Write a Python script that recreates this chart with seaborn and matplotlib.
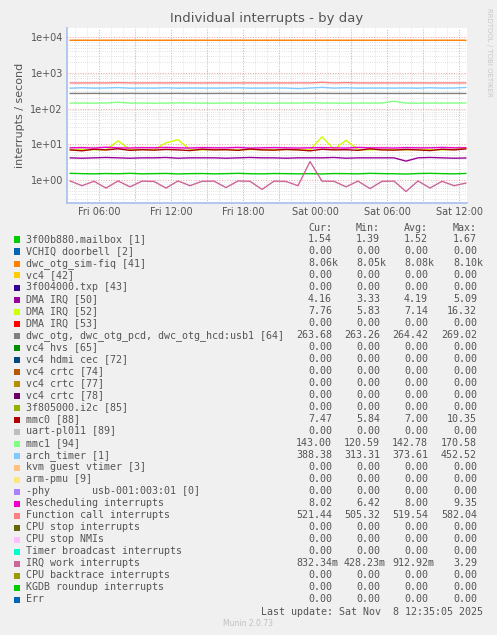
import numpy as np
import pandas as pd
import matplotlib
matplotlib.use('Agg')
import matplotlib.pyplot as plt
import matplotlib.dates as mdates
import matplotlib.ticker as mticker
import seaborn as sns

# ---- data (hourly samples) ----
start = pd.Timestamp('2025-11-07 03:35')
n_pts = 34
mailbox   = [1.55,1.52,1.50,1.53,1.51,1.55,1.50,1.52,1.54,1.49,1.52,1.53,1.50,1.52,1.55,1.51,1.50,1.53,1.52,1.50,1.52,1.49,1.53,1.52,1.50,1.55,1.52,1.51,1.48,1.53,1.55,1.52,1.50,1.54]
sim_fiq   = [8060,8080,8070,8090,8080,8075,8085,8080,8070,8090,8080,8085,8075,8080,8090,8080,8070,8085,8080,8075,8080,8090,8080,8070,8085,8080,8075,8080,8090,8080,8070,8085,8080,8060]
dma50     = [4.2,4.1,4.2,4.3,4.2,4.1,4.2,4.2,4.3,4.1,4.2,4.2,4.2,4.1,4.2,4.3,4.2,4.2,4.1,4.2,4.2,4.2,4.3,4.1,4.2,4.2,4.2,4.2,3.4,4.2,4.3,4.2,4.1,4.16]
dma52     = [7.0,7.2,7.1,7.0,12.5,7.1,7.2,7.0,11.0,13.5,7.1,7.0,7.2,7.1,7.0,7.2,7.1,7.0,7.2,7.1,7.0,16.3,7.2,13.0,7.1,7.0,7.2,7.1,7.0,7.2,7.1,7.0,7.3,7.76]
dwc_otg   = [264,264,265,264,264,265,264,264,264,265,264,264,264,265,264,264,264,265,264,264,264,265,264,264,264,265,264,264,264,265,264,264,264,263.7]
mmc0      = [7.0,6.6,7.3,7.0,7.5,6.8,7.1,6.9,7.2,7.0,6.7,7.3,7.0,7.1,6.8,7.4,7.0,6.9,7.2,7.0,6.6,7.3,7.0,7.1,6.8,7.5,7.0,6.9,7.2,7.0,6.7,7.3,7.0,7.47]
mmc1      = [142,143,141,143,150,142,143,141,142,144,143,142,141,143,142,143,142,141,143,142,144,143,142,141,143,142,143,160,142,141,143,142,143,143]
arch      = [370,380,372,375,385,370,374,372,380,371,375,373,372,374,380,371,372,375,373,360,374,390,372,380,371,374,373,372,375,371,380,372,374,388]
resched   = [8.0,8.1,7.9,8.3,8.0,7.9,8.1,8.0,8.2,8.0,7.9,8.1,8.0,8.0,8.2,7.9,8.0,8.1,8.0,7.9,8.0,8.1,8.0,7.9,8.2,8.0,8.0,7.9,8.1,8.0,8.0,8.2,8.0,8.02]
funccall  = [520,518,522,519,530,520,518,521,519,525,520,518,522,519,520,521,518,520,519,522,520,540,519,530,520,518,522,519,520,521,518,520,519,521]
irqwork   = [0.95,0.70,0.93,0.60,0.95,0.65,0.94,0.92,0.60,0.95,0.70,0.93,0.94,0.62,0.95,0.93,0.55,0.94,0.92,0.70,3.3,0.94,0.93,0.65,0.94,0.58,0.93,0.94,0.48,0.95,0.60,0.93,0.70,0.83]

lines = [
    ('dwc_otg_sim-fiq', sim_fiq, '#ff8000'),
    ('Function call', funccall, '#ff8080'),
    ('arch_timer', arch, '#80c9ff'),
    ('dwc_otg', dwc_otg, '#808080'),
    ('mmc1', mmc1, '#80ff80'),
    ('DMA IRQ 52', dma52, '#ccff00'),
    ('Rescheduling', resched, '#ee00cc'),
    ('mmc0', mmc0, '#aa0000'),
    ('DMA IRQ 50', dma50, '#990099'),
    ('mailbox', mailbox, '#00cc00'),
    ('IRQ work', irqwork, '#cc6699'),
]

legend_names = ['3f00b880.mailbox [1]', 'VCHIQ doorbell [2]', 'dwc_otg_sim-fiq [41]', 'vc4 [42]',
                '3f004000.txp [43]', 'DMA IRQ [50]', 'DMA IRQ [52]', 'DMA IRQ [53]',
                'dwc_otg, dwc_otg_pcd, dwc_otg_hcd:usb1 [64]', 'vc4 hvs [65]', 'vc4 hdmi cec [72]',
                'vc4 crtc [74]', 'vc4 crtc [77]', 'vc4 crtc [78]', '3f805000.i2c [85]', 'mmc0 [88]',
                'uart-pl011 [89]', 'mmc1 [94]', 'arch_timer [1]', 'kvm guest vtimer [3]', 'arm-pmu [9]',
                '-phy       usb-001:003:01 [0]', 'Rescheduling interrupts', 'Function call interrupts',
                'CPU stop interrupts', 'CPU stop NMIs', 'Timer broadcast interrupts', 'IRQ work interrupts',
                'CPU backtrace interrupts', 'KGDB roundup interrupts', 'Err']
legend_colors = ['#00cc00', '#0066b3', '#ff8000', '#ffcc00', '#330099', '#990099', '#ccff00', '#ff0000',
                 '#808080', '#008f00', '#00487d', '#b35a00', '#b38f00', '#6b006b', '#8fb300', '#b30000',
                 '#bebebe', '#80ff80', '#80c9ff', '#ffc080', '#ffe680', '#aa80ff', '#ee00cc', '#ff8080',
                 '#666600', '#ffbfff', '#00ffcc', '#cc6699', '#999900', '#00cc00', '#0066b3']
z = '0.00'
cur = ['1.54', z, '8.06k', z, z, '4.16', '7.76', z, '263.68', z, z, z, z, z, z, '7.47', z, '143.00', '388.38', z, z, z, '8.02', '521.44', z, z, z, '832.34m', z, z, z]
mn  = ['1.39', z, '8.05k', z, z, '3.33', '5.83', z, '263.26', z, z, z, z, z, z, '5.84', z, '120.59', '313.31', z, z, z, '6.42', '505.32', z, z, z, '428.23m', z, z, z]
avg = ['1.52', z, '8.08k', z, z, '4.19', '7.14', z, '264.42', z, z, z, z, z, z, '7.00', z, '142.78', '373.61', z, z, z, '8.00', '519.54', z, z, z, '912.92m', z, z, z]
mx  = ['1.67', z, '8.10k', z, z, '5.09', '16.32', z, '269.02', z, z, z, z, z, z, '10.35', z, '170.58', '452.52', z, z, z, '9.35', '582.04', z, z, z, '3.29', z, z, z]

times = pd.date_range(start, periods=n_pts, freq='h')
df = pd.concat([pd.DataFrame({'t': times, 'v': vals, 's': name}) for name, vals, _ in lines])

sns.set_theme(style='white')
plt.rcParams['font.family'] = 'DejaVu Sans'
W, H = 497, 635
fig = plt.figure(figsize=(W / 100, H / 100), dpi=100, facecolor='#f0f0f0')
ax = fig.add_axes([67 / W, 1 - 203 / H, 400 / W, 175 / H])
ax.set_facecolor('white')

sns.lineplot(data=df, x='t', y='v', hue='s', palette={n: c for n, _, c in lines},
             linewidth=1.0, legend=False, ax=ax)
ax.set_yscale('log')
ax.set_ylim(0.23, 10 ** 4.25)
ax.set_xlim(pd.Timestamp('2025-11-07 03:20'), pd.Timestamp('2025-11-08 12:40'))

ax.xaxis.set_major_locator(mdates.HourLocator(byhour=[6, 12, 18, 0]))
ax.xaxis.set_major_formatter(mdates.DateFormatter('%a %H:%M'))
ax.xaxis.set_minor_locator(mdates.HourLocator())
ax.set_yticks([1, 10, 100, 1000, 10000])
ax.set_yticklabels(['1e+00', '1e+01', '1e+02', '1e+03', '1e+04'])
ax.yaxis.set_minor_locator(mticker.LogLocator(base=10, subs=np.arange(2, 10), numticks=20))
ax.yaxis.set_minor_formatter(mticker.NullFormatter())
ax.grid(which='minor', color='#d8d8d8', linestyle=':', linewidth=0.6)
ax.grid(which='major', axis='y', color='#f0a0a0', linestyle=':', linewidth=0.7)
for h in pd.date_range('2025-11-07 06:00', '2025-11-08 12:00', freq='3h'):
    ax.axvline(h, color='#f0a0a0', linestyle=':', linewidth=0.7, zorder=0)
ax.tick_params(axis='both', which='both', labelsize=7, colors='#555555', length=0, pad=3)
for sp in ['top', 'right']:
    ax.spines[sp].set_visible(False)
for sp in ['left', 'bottom']:
    ax.spines[sp].set_color('#aac0ee')
ax.set_xlabel('')
ax.set_ylabel('interrupts / second', fontsize=8, color='#555555')
ax.set_title('Individual interrupts - by day', fontsize=9.5, color='#555555', pad=4)
fig.text(489 / W, 1 - 8 / H, 'RRDTOOL / TOBI OETIKER', rotation=270, fontsize=5, color='#c8c8c8', ha='center', va='top')

# ---- legend table ----
mono = dict(family='DejaVu Sans Mono', fontsize=7.2, color='#555555', va='center')
col_x = [332, 380, 428, 477]
for x, hd in zip(col_x, ['Cur:', 'Min:', 'Avg:', 'Max:']):
    fig.text(x / W, 1 - 228 / H, hd, ha='right', **mono)
for i, (nm, c) in enumerate(zip(legend_names, legend_colors)):
    y = 239.5 + i * 12.0
    fig.patches.append(plt.Rectangle((14 / W, 1 - (y + 3) / H), 6 / W, 6 / H, transform=fig.transFigure,
                                     facecolor=c, edgecolor='none'))
    fig.text(26 / W, 1 - y / H, nm, ha='left', **mono)
    for x, vals in zip(col_x, [cur, mn, avg, mx]):
        v = vals[i]
        xx = x + (6 if v.endswith(('k', 'm')) else 0)
        fig.text(xx / W, 1 - y / H, v, ha='right', **mono)
fig.text(483 / W, 1 - 612 / H, 'Last update: Sat Nov  8 12:35:05 2025', ha='right', **mono)
fig.text(248 / W, 1 - 623 / H, 'Munin 2.0.73', ha='center', va='center', fontsize=5.5, color='#c0c0c0')

fig.savefig('out.png', dpi=100, facecolor=fig.get_facecolor())
